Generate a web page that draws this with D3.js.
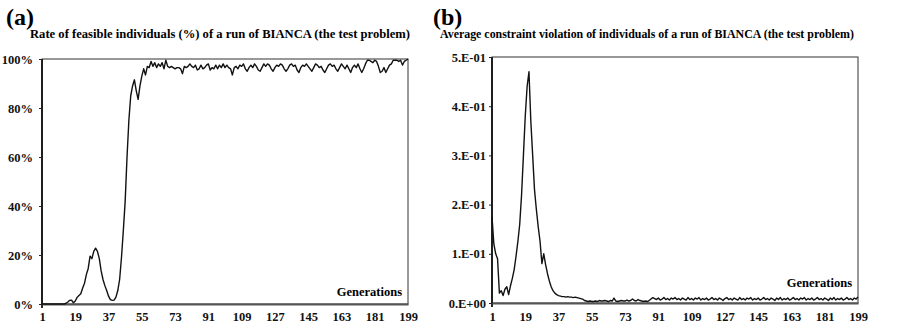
<!DOCTYPE html>
<html>
<head>
<meta charset="utf-8">
<script src="https://cdn.jsdelivr.net/npm/d3@7/dist/d3.min.js"></script>
<style>
  body { margin: 0; background: #fff; }
  #chart text { font-family: 'Liberation Serif', 'DejaVu Serif', serif; font-weight: bold; }
</style>
</head>
<body>
<svg id="chart" width="909" height="327"></svg>
<script>
// generations shown on the x axis
const xTicks = [1, 19, 37, 55, 73, 91, 109, 127, 145, 163, 181, 199];

// (a) rate of feasible individuals (%) per generation 1..199
const feasibleRate = [
  0, 0, 0, 0, 0, 0, 0, 0, 0, 0,
  0, 0, 0, 0.3, 0.8, 1.5, 1.6, 0.5, 1.2, 2.7,
  3.5, 4.2, 6.5, 8.5, 12, 14.5, 19.5, 18.5, 21.5, 22.8,
  21.5, 18.5, 13.5, 10, 7.5, 5.5, 3.2, 1.8, 1.5, 1.6,
  2.8, 5.5, 10, 19, 30, 42, 60, 75, 85, 89,
  91.5, 87, 83.5, 89, 93, 96, 93.5, 97, 96.5, 99,
  97, 98.5, 96.5, 98, 97, 98.5, 96, 99.5, 97, 96.5,
  97, 96.5, 96, 96.5, 96.5, 96, 94, 97, 96.5, 97,
  98, 97, 96.5, 97.5, 95.5, 96, 97.5, 96, 96.5, 97.5,
  98, 95.5, 96.5, 96, 97.5, 96, 97.5, 96.5, 98, 96.5,
  97.5, 96.5, 96, 93.5, 96.5, 97, 96, 97.5, 97, 98,
  96, 95, 96.5, 97.5, 96.5, 98, 97, 95.5, 95, 96.5,
  98, 97, 98, 97.5, 96, 95, 96.5, 97.5, 97, 98,
  97.5, 96, 95, 96, 97.5, 98, 97, 97.5, 95.5, 94.5,
  96.5, 97.5, 97, 98, 97, 96, 95, 96.5, 98, 97.5,
  96.5, 97, 95.5, 94.5, 96, 97.5, 98, 97, 97.5, 96,
  95, 96.5, 98, 97, 96, 97.5, 96, 94.5, 96.5, 97.5,
  96.5, 98, 96, 94.5, 96, 98, 99.5, 99.5, 99, 98.5,
  99.5, 99, 97, 94.5, 95, 96.5, 94.5, 96, 97.5, 98,
  99.5, 99.5, 99.5, 99, 99.5, 97.5, 99, 99.5, 100
];

// (b) average constraint violation per generation 1..199
const constraintViolation = [
  0.175, 0.12, 0.10, 0.09, 0.02, 0.025, 0.015, 0.028, 0.033, 0.017,
  0.035, 0.05, 0.068, 0.095, 0.125, 0.16, 0.22, 0.30, 0.38, 0.44,
  0.47, 0.37, 0.30, 0.23, 0.19, 0.155, 0.125, 0.08, 0.10, 0.078,
  0.06, 0.045, 0.033, 0.025, 0.02, 0.017, 0.015, 0.014, 0.013, 0.013,
  0.012, 0.013, 0.012, 0.012, 0.011, 0.012, 0.011, 0.010, 0.009, 0.008,
  0.005, 0.004, 0.003, 0.004, 0.003, 0.003, 0.004, 0.003, 0.005, 0.004,
  0.004, 0.005, 0.004, 0.003, 0.005, 0.004, 0.010, 0.004, 0.003, 0.004,
  0.005, 0.004, 0.004, 0.006, 0.004, 0.005, 0.008, 0.005, 0.004, 0.007,
  0.005, 0.004, 0.003, 0.004, 0.003, 0.005, 0.008, 0.011, 0.009, 0.007,
  0.010, 0.006, 0.008, 0.011, 0.007, 0.009, 0.006, 0.010, 0.008, 0.011,
  0.007, 0.009, 0.006, 0.010, 0.008, 0.006, 0.011, 0.007, 0.009, 0.006,
  0.010, 0.008, 0.011, 0.006, 0.009, 0.007, 0.010, 0.006, 0.008, 0.011,
  0.007, 0.009, 0.006, 0.010, 0.008, 0.005, 0.009, 0.011, 0.007, 0.009,
  0.006, 0.010, 0.008, 0.006, 0.011, 0.007, 0.009, 0.006, 0.010, 0.008,
  0.011, 0.006, 0.009, 0.007, 0.010, 0.006, 0.008, 0.011, 0.007, 0.009,
  0.006, 0.010, 0.008, 0.005, 0.010, 0.007, 0.011, 0.006, 0.009, 0.007,
  0.010, 0.006, 0.008, 0.011, 0.007, 0.009, 0.006, 0.010, 0.008, 0.011,
  0.006, 0.009, 0.007, 0.010, 0.006, 0.008, 0.011, 0.007, 0.009, 0.006,
  0.010, 0.008, 0.005, 0.010, 0.007, 0.011, 0.006, 0.009, 0.007, 0.010,
  0.006, 0.008, 0.011, 0.007, 0.009, 0.006, 0.010, 0.008, 0.012
];

const rateTicks = [0, 20, 40, 60, 80, 100];
const rateTickLabels = ['0%', '20%', '40%', '60%', '80%', '100%'];
const violationTicks = [0, 0.1, 0.2, 0.3, 0.4, 0.5];
const violationTickLabels = ['0.E+00', '1.E-01', '2.E-01', '3.E-01', '4.E-01', '5.E-01'];

const svg = d3.select('#chart');

function drawPanel(opt) {
  const g = svg.append('g');

  const x = d3.scaleLinear().domain([1, 199]).range([opt.left, opt.right]);
  const y = d3.scaleLinear().domain(opt.yDomain).range([opt.bottom, opt.top]);

  // panel letter and title
  g.append('text')
    .attr('x', opt.letterX)
    .attr('y', 25)
    .style('font-size', '24px')
    .text(opt.letter);
  g.append('text')
    .attr('x', opt.titleX)
    .attr('y', 38)
    .attr('text-anchor', 'middle')
    .attr('textLength', opt.titleLen)
    .attr('lengthAdjust', 'spacingAndGlyphs')
    .style('font-size', '11.5px')
    .text(opt.title);

  // thin frame on top / right
  g.append('rect')
    .attr('x', opt.left)
    .attr('y', opt.top)
    .attr('width', opt.right - opt.left)
    .attr('height', opt.bottom - opt.top)
    .attr('fill', 'none')
    .attr('stroke', '#333')
    .attr('stroke-width', 1);

  const yAxis = d3.axisLeft(y)
    .tickValues(opt.yTicks)
    .tickFormat((d, i) => opt.yLabels[i])
    .tickSize(3)
    .tickPadding(opt.yPad);
  const yg = g.append('g')
    .attr('transform', 'translate(' + opt.left + ',0)')
    .call(yAxis);
  yg.select('.domain').attr('d', 'M0,' + opt.top + 'V' + (opt.bottom + 4))
    .attr('stroke', '#111').attr('stroke-width', 1.8);
  yg.selectAll('.tick line').attr('stroke', '#222');

  const xAxis = d3.axisBottom(x)
    .tickValues(xTicks)
    .tickSize(0)
    .tickPadding(opt.xPad);
  const xg = g.append('g')
    .attr('transform', 'translate(0,' + opt.bottom + ')')
    .call(xAxis);
  xg.select('.domain').attr('stroke', '#555').attr('stroke-width', 2);

  g.selectAll('.tick text')
    .style('font-size', '12.5px')
    .attr('fill', '#111');

  g.append('text')
    .attr('x', opt.right - 6)
    .attr('y', opt.genY)
    .attr('text-anchor', 'end')
    .style('font-size', '12.5px')
    .text('Generations');

  const line = d3.line()
    .x((d, i) => x(i + 1))
    .y(d => y(d));

  g.append('path')
    .datum(opt.values)
    .attr('fill', 'none')
    .attr('stroke', '#111')
    .attr('stroke-width', 1.4)
    .attr('stroke-linejoin', 'round')
    .attr('d', line);
}

drawPanel({
  left: 42, right: 408, top: 59, bottom: 304,
  yDomain: [0, 100], yTicks: rateTicks, yLabels: rateTickLabels, yPad: 6, xPad: 8,
  letter: '(a)', letterX: 6,
  title: 'Rate of feasible individuals (%) of a run of BIANCA (the test problem)',
  titleX: 220, titleLen: 380, genY: 296,
  values: feasibleRate
});

drawPanel({
  left: 492, right: 858, top: 57, bottom: 303,
  yDomain: [0, 0.5], yTicks: violationTicks, yLabels: violationTickLabels, yPad: 3, xPad: 9,
  letter: '(b)', letterX: 433,
  title: 'Average constraint violation of individuals of a run of BIANCA  (the test problem)',
  titleX: 647, titleLen: 414, genY: 287,
  values: constraintViolation
});
</script>
</body>
</html>
